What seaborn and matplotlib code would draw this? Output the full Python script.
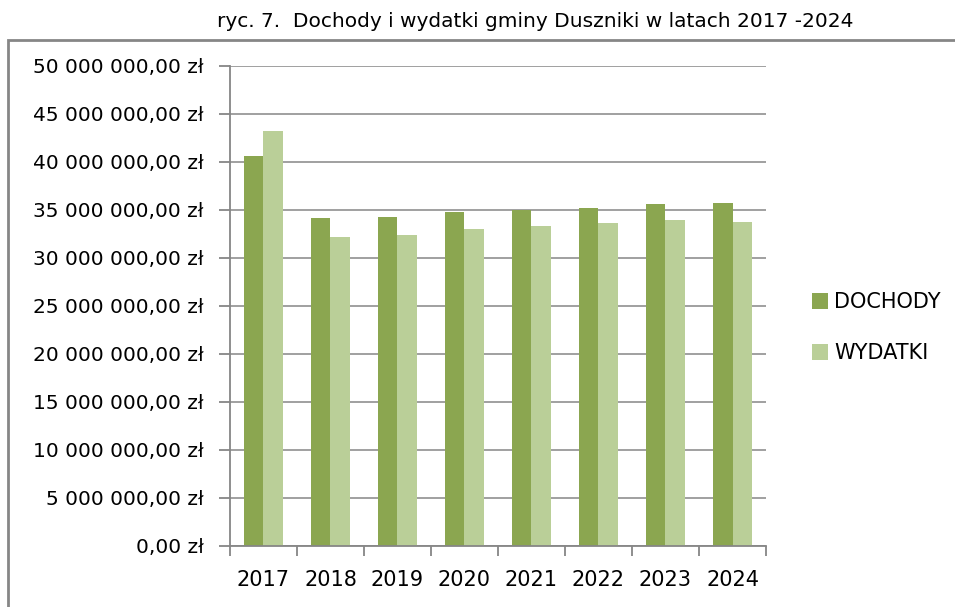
import matplotlib
matplotlib.use("Agg")
import matplotlib.pyplot as plt
from matplotlib.ticker import FuncFormatter, MultipleLocator, FixedLocator
from matplotlib.patches import Rectangle
import pandas as pd
import seaborn as sns

years = ["2017", "2018", "2019", "2020", "2021", "2022", "2023", "2024"]
dochody = [40.66e6, 34.2e6, 34.3e6, 34.8e6, 34.96e6, 35.24e6, 35.66e6, 35.76e6]
wydatki = [43.26e6, 32.2e6, 32.4e6, 33.0e6, 33.36e6, 33.68e6, 34.0e6, 33.8e6]
series = ["DOCHODY", "WYDATKI"]
colors = ["#8BA650", "#BACF98"]

df = pd.DataFrame({
    "rok": years * 2,
    "kwota": dochody + wydatki,
    "seria": [series[0]] * len(years) + [series[1]] * len(years),
})

sns.set_style("white")
plt.rcParams["font.family"] = ["DejaVu Sans"]
plt.rcParams["text.color"] = "black"
plt.rcParams["xtick.labelcolor"] = "black"
plt.rcParams["ytick.labelcolor"] = "black"

fig = plt.figure(figsize=(9.55, 6.07), dpi=100)
ax = fig.add_axes([0.2408, 0.1005, 0.5613, 0.7908])

sns.barplot(data=df, x="rok", y="kwota", hue="seria", palette=colors,
            width=0.58, saturation=1, linewidth=0, ax=ax)

def fmt(v, pos):
    s = f"{v:,.2f}".replace(",", " ").replace(".", ",")
    return s + " zł"

ax.set_ylim(0, 50e6)
ax.set_xlim(-0.5, 7.5)
ax.yaxis.set_major_locator(MultipleLocator(5e6))
ax.yaxis.set_major_formatter(FuncFormatter(fmt))
ax.yaxis.grid(True, color="#868686", linewidth=1.1)
ax.set_axisbelow(True)
ax.set_xlabel("")
ax.set_ylabel("")

for side in ["top", "right"]:
    ax.spines[side].set_visible(False)
for side in ["left", "bottom"]:
    ax.spines[side].set_color("#868686")
    ax.spines[side].set_linewidth(1.3)

ax.tick_params(axis="y", left=True, length=8, width=1.3, color="#868686",
               labelsize=14.5, pad=11, labelcolor="black")
ax.tick_params(axis="x", which="major", length=0, labelsize=15, pad=17,
               labelcolor="black")
ax.xaxis.set_minor_locator(FixedLocator([i - 0.5 for i in range(len(years) + 1)]))
ax.tick_params(axis="x", which="minor", bottom=True, length=7, width=1.3,
               color="#868686")

leg = ax.legend(loc="center left", bbox_to_anchor=(1.05, 0.455), frameon=False,
                fontsize=15, handlelength=0.8, handleheight=0.8,
                handletextpad=0.3, labelspacing=1.5)
for t in leg.get_texts():
    t.set_color("black")

fig.text(0.56, 0.965, "ryc. 7.  Dochody i wydatki gminy Duszniki w latach 2017 -2024",
         ha="center", va="center", fontsize=14.5, color="black")

fig.patches.append(Rectangle((8 / 955, -0.1), 1.2, 1 - 40 / 607 + 0.1,
                             transform=fig.transFigure, fill=False,
                             edgecolor="#868686", linewidth=2))

fig.savefig("out.png", dpi=100)
